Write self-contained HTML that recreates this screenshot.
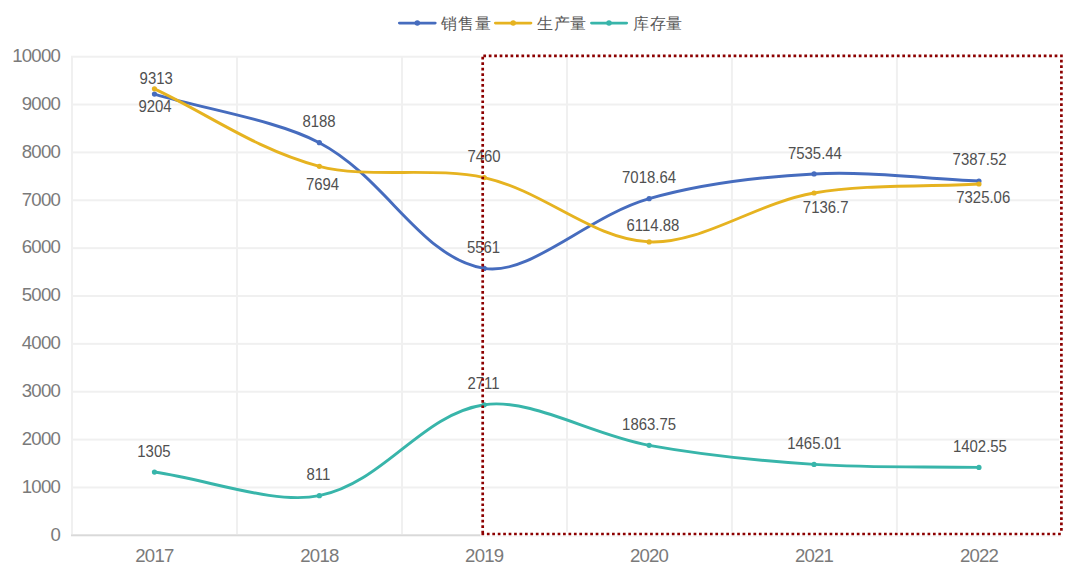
<!DOCTYPE html>
<html><head><meta charset="utf-8"><style>
html,body{margin:0;padding:0;background:#fff;}
body{width:1080px;height:578px;overflow:hidden;}
svg{display:block;}
text{font-family:"Liberation Sans",sans-serif;}
.ax{font-size:18.6px;fill:#7A7A7A;letter-spacing:-0.8px;}
.dl{font-size:15.4px;fill:#505050;letter-spacing:0px;}
.lg{font-size:16.4px;fill:#595959;letter-spacing:0.6px;}
</style></head><body>
<svg width="1080" height="578" viewBox="0 0 1080 578">
<rect x="71" y="55.70" width="991" height="2" fill="#F0F0F0"/>
<rect x="71" y="103.56" width="991" height="2" fill="#F0F0F0"/>
<rect x="71" y="151.42" width="991" height="2" fill="#F0F0F0"/>
<rect x="71" y="199.28" width="991" height="2" fill="#F0F0F0"/>
<rect x="71" y="247.14" width="991" height="2" fill="#F0F0F0"/>
<rect x="71" y="295.00" width="991" height="2" fill="#F0F0F0"/>
<rect x="71" y="342.86" width="991" height="2" fill="#F0F0F0"/>
<rect x="71" y="390.72" width="991" height="2" fill="#F0F0F0"/>
<rect x="71" y="438.58" width="991" height="2" fill="#F0F0F0"/>
<rect x="71" y="486.44" width="991" height="2" fill="#F0F0F0"/>
<rect x="71" y="534.30" width="991" height="2" fill="#D9D9D9"/>
<rect x="71.03" y="56" width="2" height="478" fill="#F0F0F0"/>
<rect x="236.00" y="56" width="2" height="478" fill="#F0F0F0"/>
<rect x="400.97" y="56" width="2" height="478" fill="#F0F0F0"/>
<rect x="565.94" y="56" width="2" height="478" fill="#F0F0F0"/>
<rect x="730.91" y="56" width="2" height="478" fill="#F0F0F0"/>
<rect x="895.88" y="56" width="2" height="478" fill="#F0F0F0"/>
<rect x="1060.85" y="56" width="2" height="478" fill="#F0F0F0"/>
<rect x="482.75" y="55.8" width="578.65" height="478.2" fill="none" stroke="#FFFFFF" stroke-width="4.6"/>
<text x="60.0" y="540.6" class="ax" text-anchor="end">0</text>
<text x="60.0" y="492.7" class="ax" text-anchor="end">1000</text>
<text x="60.0" y="444.9" class="ax" text-anchor="end">2000</text>
<text x="60.0" y="397.0" class="ax" text-anchor="end">3000</text>
<text x="60.0" y="349.2" class="ax" text-anchor="end">4000</text>
<text x="60.0" y="301.3" class="ax" text-anchor="end">5000</text>
<text x="60.0" y="253.4" class="ax" text-anchor="end">6000</text>
<text x="60.0" y="205.6" class="ax" text-anchor="end">7000</text>
<text x="60.0" y="157.7" class="ax" text-anchor="end">8000</text>
<text x="60.0" y="109.9" class="ax" text-anchor="end">9000</text>
<text x="60.0" y="62.0" class="ax" text-anchor="end">10000</text>
<text x="154.4" y="561.8" class="ax" text-anchor="middle">2017</text>
<text x="319.4" y="561.8" class="ax" text-anchor="middle">2018</text>
<text x="484.2" y="561.8" class="ax" text-anchor="middle">2019</text>
<text x="649.1" y="561.8" class="ax" text-anchor="middle">2020</text>
<text x="814.1" y="561.8" class="ax" text-anchor="middle">2021</text>
<text x="979.0" y="561.8" class="ax" text-anchor="middle">2022</text>
<path d="M154.45,94.09 C209.42,110.29 276.97,120.31 319.35,142.70 C386.91,178.41 420.02,257.51 484.25,268.41 C529.95,276.16 587.66,216.27 649.15,198.66 C697.60,184.78 757.93,176.93 814.05,173.93 C867.86,171.05 923.98,178.65 978.95,181.01" fill="none" stroke="#466CBE" stroke-width="2.9" stroke-linecap="round"/>
<circle cx="154.45" cy="94.09" r="2.6" fill="#466CBE"/>
<circle cx="319.35" cy="142.70" r="2.6" fill="#466CBE"/>
<circle cx="484.25" cy="268.41" r="2.6" fill="#466CBE"/>
<circle cx="649.15" cy="198.66" r="2.6" fill="#466CBE"/>
<circle cx="814.05" cy="173.93" r="2.6" fill="#466CBE"/>
<circle cx="978.95" cy="181.01" r="2.6" fill="#466CBE"/>
<path d="M154.45,88.87 C209.42,114.70 255.59,149.20 319.35,166.34 C365.52,178.76 435.88,166.46 484.25,177.54 C545.82,191.64 591.68,239.21 649.15,241.90 C701.61,244.36 754.88,203.40 814.05,193.01 C864.81,184.10 923.98,187.00 978.95,184.00" fill="none" stroke="#E6B320" stroke-width="2.9" stroke-linecap="round"/>
<circle cx="154.45" cy="88.87" r="2.6" fill="#E6B320"/>
<circle cx="319.35" cy="166.34" r="2.6" fill="#E6B320"/>
<circle cx="484.25" cy="177.54" r="2.6" fill="#E6B320"/>
<circle cx="649.15" cy="241.90" r="2.6" fill="#E6B320"/>
<circle cx="814.05" cy="193.01" r="2.6" fill="#E6B320"/>
<circle cx="978.95" cy="184.00" r="2.6" fill="#E6B320"/>
<path d="M154.45,472.06 C209.42,479.94 274.56,504.83 319.35,495.69 C384.49,482.41 421.05,414.43 484.25,404.78 C530.99,397.64 591.79,434.95 649.15,445.32 C701.72,454.82 758.34,460.67 814.05,464.40 C868.27,468.03 923.98,466.39 978.95,467.39" fill="none" stroke="#38B5AA" stroke-width="2.9" stroke-linecap="round"/>
<circle cx="154.45" cy="472.06" r="2.6" fill="#38B5AA"/>
<circle cx="319.35" cy="495.69" r="2.6" fill="#38B5AA"/>
<circle cx="484.25" cy="404.78" r="2.6" fill="#38B5AA"/>
<circle cx="649.15" cy="445.32" r="2.6" fill="#38B5AA"/>
<circle cx="814.05" cy="464.40" r="2.6" fill="#38B5AA"/>
<circle cx="978.95" cy="467.39" r="2.6" fill="#38B5AA"/>
<text transform="translate(156.2 83.8) scale(0.970 1.080)" class="dl" text-anchor="middle">9313</text>
<text transform="translate(155.0 112.1) scale(0.970 1.080)" class="dl" text-anchor="middle">9204</text>
<text transform="translate(319.0 126.5) scale(0.970 1.080)" class="dl" text-anchor="middle">8188</text>
<text transform="translate(322.5 190.1) scale(0.970 1.080)" class="dl" text-anchor="middle">7694</text>
<text transform="translate(484.0 162.3) scale(0.970 1.080)" class="dl" text-anchor="middle">7460</text>
<text transform="translate(483.5 252.8) scale(0.970 1.080)" class="dl" text-anchor="middle">5561</text>
<text transform="translate(649.0 182.9) scale(0.970 1.080)" class="dl" text-anchor="middle">7018.64</text>
<text transform="translate(653.0 230.5) scale(0.970 1.080)" class="dl" text-anchor="middle">6114.88</text>
<text transform="translate(814.9 158.5) scale(0.970 1.080)" class="dl" text-anchor="middle">7535.44</text>
<text transform="translate(825.7 213.2) scale(0.970 1.080)" class="dl" text-anchor="middle">7136.7</text>
<text transform="translate(979.6 164.7) scale(0.970 1.080)" class="dl" text-anchor="middle">7387.52</text>
<text transform="translate(983.2 202.8) scale(0.970 1.080)" class="dl" text-anchor="middle">7325.06</text>
<text transform="translate(153.9 456.8) scale(0.970 1.080)" class="dl" text-anchor="middle">1305</text>
<text transform="translate(318.4 479.8) scale(0.970 1.080)" class="dl" text-anchor="middle">811</text>
<text transform="translate(483.5 389.4) scale(0.970 1.080)" class="dl" text-anchor="middle">2711</text>
<text transform="translate(649.1 429.6) scale(0.970 1.080)" class="dl" text-anchor="middle">1863.75</text>
<text transform="translate(814.2 449.2) scale(0.970 1.080)" class="dl" text-anchor="middle">1465.01</text>
<text transform="translate(979.9 451.5) scale(0.970 1.080)" class="dl" text-anchor="middle">1402.55</text>
<path d="M483.35,54.45h2.7v2.7h-2.7zM488.79,54.45h2.7v2.7h-2.7zM494.23,54.45h2.7v2.7h-2.7zM499.67,54.45h2.7v2.7h-2.7zM505.11,54.45h2.7v2.7h-2.7zM510.55,54.45h2.7v2.7h-2.7zM516.00,54.45h2.7v2.7h-2.7zM521.44,54.45h2.7v2.7h-2.7zM526.88,54.45h2.7v2.7h-2.7zM532.32,54.45h2.7v2.7h-2.7zM537.76,54.45h2.7v2.7h-2.7zM543.20,54.45h2.7v2.7h-2.7zM548.64,54.45h2.7v2.7h-2.7zM554.08,54.45h2.7v2.7h-2.7zM559.52,54.45h2.7v2.7h-2.7zM564.96,54.45h2.7v2.7h-2.7zM570.41,54.45h2.7v2.7h-2.7zM575.85,54.45h2.7v2.7h-2.7zM581.29,54.45h2.7v2.7h-2.7zM586.73,54.45h2.7v2.7h-2.7zM592.17,54.45h2.7v2.7h-2.7zM597.61,54.45h2.7v2.7h-2.7zM603.05,54.45h2.7v2.7h-2.7zM608.49,54.45h2.7v2.7h-2.7zM613.93,54.45h2.7v2.7h-2.7zM619.38,54.45h2.7v2.7h-2.7zM624.82,54.45h2.7v2.7h-2.7zM630.26,54.45h2.7v2.7h-2.7zM635.70,54.45h2.7v2.7h-2.7zM641.14,54.45h2.7v2.7h-2.7zM646.58,54.45h2.7v2.7h-2.7zM652.02,54.45h2.7v2.7h-2.7zM657.46,54.45h2.7v2.7h-2.7zM662.90,54.45h2.7v2.7h-2.7zM668.34,54.45h2.7v2.7h-2.7zM673.78,54.45h2.7v2.7h-2.7zM679.23,54.45h2.7v2.7h-2.7zM684.67,54.45h2.7v2.7h-2.7zM690.11,54.45h2.7v2.7h-2.7zM695.55,54.45h2.7v2.7h-2.7zM700.99,54.45h2.7v2.7h-2.7zM706.43,54.45h2.7v2.7h-2.7zM711.87,54.45h2.7v2.7h-2.7zM717.31,54.45h2.7v2.7h-2.7zM722.75,54.45h2.7v2.7h-2.7zM728.19,54.45h2.7v2.7h-2.7zM733.64,54.45h2.7v2.7h-2.7zM739.08,54.45h2.7v2.7h-2.7zM744.52,54.45h2.7v2.7h-2.7zM749.96,54.45h2.7v2.7h-2.7zM755.40,54.45h2.7v2.7h-2.7zM760.84,54.45h2.7v2.7h-2.7zM766.28,54.45h2.7v2.7h-2.7zM771.72,54.45h2.7v2.7h-2.7zM777.16,54.45h2.7v2.7h-2.7zM782.60,54.45h2.7v2.7h-2.7zM788.05,54.45h2.7v2.7h-2.7zM793.49,54.45h2.7v2.7h-2.7zM798.93,54.45h2.7v2.7h-2.7zM804.37,54.45h2.7v2.7h-2.7zM809.81,54.45h2.7v2.7h-2.7zM815.25,54.45h2.7v2.7h-2.7zM820.69,54.45h2.7v2.7h-2.7zM826.13,54.45h2.7v2.7h-2.7zM831.57,54.45h2.7v2.7h-2.7zM837.01,54.45h2.7v2.7h-2.7zM842.46,54.45h2.7v2.7h-2.7zM847.90,54.45h2.7v2.7h-2.7zM853.34,54.45h2.7v2.7h-2.7zM858.78,54.45h2.7v2.7h-2.7zM864.22,54.45h2.7v2.7h-2.7zM869.66,54.45h2.7v2.7h-2.7zM875.10,54.45h2.7v2.7h-2.7zM880.54,54.45h2.7v2.7h-2.7zM885.98,54.45h2.7v2.7h-2.7zM891.42,54.45h2.7v2.7h-2.7zM896.87,54.45h2.7v2.7h-2.7zM902.31,54.45h2.7v2.7h-2.7zM907.75,54.45h2.7v2.7h-2.7zM913.19,54.45h2.7v2.7h-2.7zM918.63,54.45h2.7v2.7h-2.7zM924.07,54.45h2.7v2.7h-2.7zM929.51,54.45h2.7v2.7h-2.7zM934.95,54.45h2.7v2.7h-2.7zM940.39,54.45h2.7v2.7h-2.7zM945.83,54.45h2.7v2.7h-2.7zM951.28,54.45h2.7v2.7h-2.7zM956.72,54.45h2.7v2.7h-2.7zM962.16,54.45h2.7v2.7h-2.7zM967.60,54.45h2.7v2.7h-2.7zM973.04,54.45h2.7v2.7h-2.7zM978.48,54.45h2.7v2.7h-2.7zM983.92,54.45h2.7v2.7h-2.7zM989.36,54.45h2.7v2.7h-2.7zM994.80,54.45h2.7v2.7h-2.7zM1000.25,54.45h2.7v2.7h-2.7zM1005.69,54.45h2.7v2.7h-2.7zM1011.13,54.45h2.7v2.7h-2.7zM1016.57,54.45h2.7v2.7h-2.7zM1022.01,54.45h2.7v2.7h-2.7zM1027.45,54.45h2.7v2.7h-2.7zM1032.89,54.45h2.7v2.7h-2.7zM1038.33,54.45h2.7v2.7h-2.7zM1043.77,54.45h2.7v2.7h-2.7zM1049.21,54.45h2.7v2.7h-2.7zM1054.65,54.45h2.7v2.7h-2.7zM1060.10,54.45h2.7v2.7h-2.7zM1060.05,59.80h2.7v2.7h-2.7zM1060.05,65.24h2.7v2.7h-2.7zM1060.05,70.69h2.7v2.7h-2.7zM1060.05,76.13h2.7v2.7h-2.7zM1060.05,81.58h2.7v2.7h-2.7zM1060.05,87.02h2.7v2.7h-2.7zM1060.05,92.47h2.7v2.7h-2.7zM1060.05,97.91h2.7v2.7h-2.7zM1060.05,103.36h2.7v2.7h-2.7zM1060.05,108.80h2.7v2.7h-2.7zM1060.05,114.25h2.7v2.7h-2.7zM1060.05,119.69h2.7v2.7h-2.7zM1060.05,125.14h2.7v2.7h-2.7zM1060.05,130.58h2.7v2.7h-2.7zM1060.05,136.03h2.7v2.7h-2.7zM1060.05,141.47h2.7v2.7h-2.7zM1060.05,146.91h2.7v2.7h-2.7zM1060.05,152.36h2.7v2.7h-2.7zM1060.05,157.81h2.7v2.7h-2.7zM1060.05,163.25h2.7v2.7h-2.7zM1060.05,168.70h2.7v2.7h-2.7zM1060.05,174.14h2.7v2.7h-2.7zM1060.05,179.59h2.7v2.7h-2.7zM1060.05,185.03h2.7v2.7h-2.7zM1060.05,190.47h2.7v2.7h-2.7zM1060.05,195.92h2.7v2.7h-2.7zM1060.05,201.37h2.7v2.7h-2.7zM1060.05,206.81h2.7v2.7h-2.7zM1060.05,212.26h2.7v2.7h-2.7zM1060.05,217.70h2.7v2.7h-2.7zM1060.05,223.15h2.7v2.7h-2.7zM1060.05,228.59h2.7v2.7h-2.7zM1060.05,234.03h2.7v2.7h-2.7zM1060.05,239.48h2.7v2.7h-2.7zM1060.05,244.93h2.7v2.7h-2.7zM1060.05,250.37h2.7v2.7h-2.7zM1060.05,255.82h2.7v2.7h-2.7zM1060.05,261.26h2.7v2.7h-2.7zM1060.05,266.70h2.7v2.7h-2.7zM1060.05,272.15h2.7v2.7h-2.7zM1060.05,277.59h2.7v2.7h-2.7zM1060.05,283.04h2.7v2.7h-2.7zM1060.05,288.49h2.7v2.7h-2.7zM1060.05,293.93h2.7v2.7h-2.7zM1060.05,299.38h2.7v2.7h-2.7zM1060.05,304.82h2.7v2.7h-2.7zM1060.05,310.26h2.7v2.7h-2.7zM1060.05,315.71h2.7v2.7h-2.7zM1060.05,321.15h2.7v2.7h-2.7zM1060.05,326.60h2.7v2.7h-2.7zM1060.05,332.04h2.7v2.7h-2.7zM1060.05,337.49h2.7v2.7h-2.7zM1060.05,342.94h2.7v2.7h-2.7zM1060.05,348.38h2.7v2.7h-2.7zM1060.05,353.82h2.7v2.7h-2.7zM1060.05,359.27h2.7v2.7h-2.7zM1060.05,364.71h2.7v2.7h-2.7zM1060.05,370.16h2.7v2.7h-2.7zM1060.05,375.60h2.7v2.7h-2.7zM1060.05,381.05h2.7v2.7h-2.7zM1060.05,386.50h2.7v2.7h-2.7zM1060.05,391.94h2.7v2.7h-2.7zM1060.05,397.38h2.7v2.7h-2.7zM1060.05,402.83h2.7v2.7h-2.7zM1060.05,408.27h2.7v2.7h-2.7zM1060.05,413.72h2.7v2.7h-2.7zM1060.05,419.16h2.7v2.7h-2.7zM1060.05,424.61h2.7v2.7h-2.7zM1060.05,430.06h2.7v2.7h-2.7zM1060.05,435.50h2.7v2.7h-2.7zM1060.05,440.94h2.7v2.7h-2.7zM1060.05,446.39h2.7v2.7h-2.7zM1060.05,451.83h2.7v2.7h-2.7zM1060.05,457.28h2.7v2.7h-2.7zM1060.05,462.72h2.7v2.7h-2.7zM1060.05,468.17h2.7v2.7h-2.7zM1060.05,473.62h2.7v2.7h-2.7zM1060.05,479.06h2.7v2.7h-2.7zM1060.05,484.50h2.7v2.7h-2.7zM1060.05,489.95h2.7v2.7h-2.7zM1060.05,495.39h2.7v2.7h-2.7zM1060.05,500.84h2.7v2.7h-2.7zM1060.05,506.28h2.7v2.7h-2.7zM1060.05,511.73h2.7v2.7h-2.7zM1060.05,517.18h2.7v2.7h-2.7zM1060.05,522.62h2.7v2.7h-2.7zM1060.05,528.07h2.7v2.7h-2.7zM481.45,532.65h2.7v2.7h-2.7zM486.89,532.65h2.7v2.7h-2.7zM492.33,532.65h2.7v2.7h-2.7zM497.77,532.65h2.7v2.7h-2.7zM503.21,532.65h2.7v2.7h-2.7zM508.65,532.65h2.7v2.7h-2.7zM514.09,532.65h2.7v2.7h-2.7zM519.53,532.65h2.7v2.7h-2.7zM524.97,532.65h2.7v2.7h-2.7zM530.41,532.65h2.7v2.7h-2.7zM535.85,532.65h2.7v2.7h-2.7zM541.29,532.65h2.7v2.7h-2.7zM546.73,532.65h2.7v2.7h-2.7zM552.17,532.65h2.7v2.7h-2.7zM557.61,532.65h2.7v2.7h-2.7zM563.05,532.65h2.7v2.7h-2.7zM568.49,532.65h2.7v2.7h-2.7zM573.93,532.65h2.7v2.7h-2.7zM579.37,532.65h2.7v2.7h-2.7zM584.81,532.65h2.7v2.7h-2.7zM590.25,532.65h2.7v2.7h-2.7zM595.69,532.65h2.7v2.7h-2.7zM601.13,532.65h2.7v2.7h-2.7zM606.57,532.65h2.7v2.7h-2.7zM612.01,532.65h2.7v2.7h-2.7zM617.45,532.65h2.7v2.7h-2.7zM622.89,532.65h2.7v2.7h-2.7zM628.33,532.65h2.7v2.7h-2.7zM633.77,532.65h2.7v2.7h-2.7zM639.21,532.65h2.7v2.7h-2.7zM644.65,532.65h2.7v2.7h-2.7zM650.09,532.65h2.7v2.7h-2.7zM655.53,532.65h2.7v2.7h-2.7zM660.97,532.65h2.7v2.7h-2.7zM666.41,532.65h2.7v2.7h-2.7zM671.85,532.65h2.7v2.7h-2.7zM677.29,532.65h2.7v2.7h-2.7zM682.73,532.65h2.7v2.7h-2.7zM688.17,532.65h2.7v2.7h-2.7zM693.61,532.65h2.7v2.7h-2.7zM699.05,532.65h2.7v2.7h-2.7zM704.49,532.65h2.7v2.7h-2.7zM709.93,532.65h2.7v2.7h-2.7zM715.37,532.65h2.7v2.7h-2.7zM720.81,532.65h2.7v2.7h-2.7zM726.25,532.65h2.7v2.7h-2.7zM731.69,532.65h2.7v2.7h-2.7zM737.13,532.65h2.7v2.7h-2.7zM742.57,532.65h2.7v2.7h-2.7zM748.01,532.65h2.7v2.7h-2.7zM753.45,532.65h2.7v2.7h-2.7zM758.89,532.65h2.7v2.7h-2.7zM764.33,532.65h2.7v2.7h-2.7zM769.77,532.65h2.7v2.7h-2.7zM775.21,532.65h2.7v2.7h-2.7zM780.65,532.65h2.7v2.7h-2.7zM786.09,532.65h2.7v2.7h-2.7zM791.53,532.65h2.7v2.7h-2.7zM796.97,532.65h2.7v2.7h-2.7zM802.41,532.65h2.7v2.7h-2.7zM807.85,532.65h2.7v2.7h-2.7zM813.29,532.65h2.7v2.7h-2.7zM818.73,532.65h2.7v2.7h-2.7zM824.17,532.65h2.7v2.7h-2.7zM829.61,532.65h2.7v2.7h-2.7zM835.05,532.65h2.7v2.7h-2.7zM840.49,532.65h2.7v2.7h-2.7zM845.93,532.65h2.7v2.7h-2.7zM851.37,532.65h2.7v2.7h-2.7zM856.81,532.65h2.7v2.7h-2.7zM862.25,532.65h2.7v2.7h-2.7zM867.69,532.65h2.7v2.7h-2.7zM873.13,532.65h2.7v2.7h-2.7zM878.57,532.65h2.7v2.7h-2.7zM884.01,532.65h2.7v2.7h-2.7zM889.45,532.65h2.7v2.7h-2.7zM894.89,532.65h2.7v2.7h-2.7zM900.33,532.65h2.7v2.7h-2.7zM905.77,532.65h2.7v2.7h-2.7zM911.21,532.65h2.7v2.7h-2.7zM916.65,532.65h2.7v2.7h-2.7zM922.09,532.65h2.7v2.7h-2.7zM927.53,532.65h2.7v2.7h-2.7zM932.97,532.65h2.7v2.7h-2.7zM938.41,532.65h2.7v2.7h-2.7zM943.85,532.65h2.7v2.7h-2.7zM949.29,532.65h2.7v2.7h-2.7zM954.73,532.65h2.7v2.7h-2.7zM960.17,532.65h2.7v2.7h-2.7zM965.61,532.65h2.7v2.7h-2.7zM971.05,532.65h2.7v2.7h-2.7zM976.49,532.65h2.7v2.7h-2.7zM981.93,532.65h2.7v2.7h-2.7zM987.37,532.65h2.7v2.7h-2.7zM992.81,532.65h2.7v2.7h-2.7zM998.25,532.65h2.7v2.7h-2.7zM1003.69,532.65h2.7v2.7h-2.7zM1009.13,532.65h2.7v2.7h-2.7zM1014.57,532.65h2.7v2.7h-2.7zM1020.01,532.65h2.7v2.7h-2.7zM1025.45,532.65h2.7v2.7h-2.7zM1030.89,532.65h2.7v2.7h-2.7zM1036.33,532.65h2.7v2.7h-2.7zM1041.77,532.65h2.7v2.7h-2.7zM1047.21,532.65h2.7v2.7h-2.7zM1052.65,532.65h2.7v2.7h-2.7zM1058.09,532.65h2.7v2.7h-2.7zM481.35,56.85h2.7v2.7h-2.7zM481.35,62.30h2.7v2.7h-2.7zM481.35,67.74h2.7v2.7h-2.7zM481.35,73.19h2.7v2.7h-2.7zM481.35,78.63h2.7v2.7h-2.7zM481.35,84.08h2.7v2.7h-2.7zM481.35,89.53h2.7v2.7h-2.7zM481.35,94.97h2.7v2.7h-2.7zM481.35,100.42h2.7v2.7h-2.7zM481.35,105.86h2.7v2.7h-2.7zM481.35,111.31h2.7v2.7h-2.7zM481.35,116.76h2.7v2.7h-2.7zM481.35,122.20h2.7v2.7h-2.7zM481.35,127.65h2.7v2.7h-2.7zM481.35,133.09h2.7v2.7h-2.7zM481.35,138.54h2.7v2.7h-2.7zM481.35,143.99h2.7v2.7h-2.7zM481.35,149.43h2.7v2.7h-2.7zM481.35,154.88h2.7v2.7h-2.7zM481.35,160.32h2.7v2.7h-2.7zM481.35,165.77h2.7v2.7h-2.7zM481.35,171.22h2.7v2.7h-2.7zM481.35,176.66h2.7v2.7h-2.7zM481.35,182.11h2.7v2.7h-2.7zM481.35,187.55h2.7v2.7h-2.7zM481.35,193.00h2.7v2.7h-2.7zM481.35,198.45h2.7v2.7h-2.7zM481.35,203.89h2.7v2.7h-2.7zM481.35,209.34h2.7v2.7h-2.7zM481.35,214.78h2.7v2.7h-2.7zM481.35,220.23h2.7v2.7h-2.7zM481.35,225.68h2.7v2.7h-2.7zM481.35,231.12h2.7v2.7h-2.7zM481.35,236.57h2.7v2.7h-2.7zM481.35,242.01h2.7v2.7h-2.7zM481.35,247.46h2.7v2.7h-2.7zM481.35,252.91h2.7v2.7h-2.7zM481.35,258.35h2.7v2.7h-2.7zM481.35,263.80h2.7v2.7h-2.7zM481.35,269.24h2.7v2.7h-2.7zM481.35,274.69h2.7v2.7h-2.7zM481.35,280.14h2.7v2.7h-2.7zM481.35,285.58h2.7v2.7h-2.7zM481.35,291.03h2.7v2.7h-2.7zM481.35,296.47h2.7v2.7h-2.7zM481.35,301.92h2.7v2.7h-2.7zM481.35,307.37h2.7v2.7h-2.7zM481.35,312.81h2.7v2.7h-2.7zM481.35,318.26h2.7v2.7h-2.7zM481.35,323.70h2.7v2.7h-2.7zM481.35,329.15h2.7v2.7h-2.7zM481.35,334.60h2.7v2.7h-2.7zM481.35,340.04h2.7v2.7h-2.7zM481.35,345.49h2.7v2.7h-2.7zM481.35,350.93h2.7v2.7h-2.7zM481.35,356.38h2.7v2.7h-2.7zM481.35,361.83h2.7v2.7h-2.7zM481.35,367.27h2.7v2.7h-2.7zM481.35,372.72h2.7v2.7h-2.7zM481.35,378.16h2.7v2.7h-2.7zM481.35,383.61h2.7v2.7h-2.7zM481.35,389.06h2.7v2.7h-2.7zM481.35,394.50h2.7v2.7h-2.7zM481.35,399.95h2.7v2.7h-2.7zM481.35,405.39h2.7v2.7h-2.7zM481.35,410.84h2.7v2.7h-2.7zM481.35,416.29h2.7v2.7h-2.7zM481.35,421.73h2.7v2.7h-2.7zM481.35,427.18h2.7v2.7h-2.7zM481.35,432.62h2.7v2.7h-2.7zM481.35,438.07h2.7v2.7h-2.7zM481.35,443.52h2.7v2.7h-2.7zM481.35,448.96h2.7v2.7h-2.7zM481.35,454.41h2.7v2.7h-2.7zM481.35,459.85h2.7v2.7h-2.7zM481.35,465.30h2.7v2.7h-2.7zM481.35,470.75h2.7v2.7h-2.7zM481.35,476.19h2.7v2.7h-2.7zM481.35,481.64h2.7v2.7h-2.7zM481.35,487.08h2.7v2.7h-2.7zM481.35,492.53h2.7v2.7h-2.7zM481.35,497.98h2.7v2.7h-2.7zM481.35,503.42h2.7v2.7h-2.7zM481.35,508.87h2.7v2.7h-2.7zM481.35,514.31h2.7v2.7h-2.7zM481.35,519.76h2.7v2.7h-2.7zM481.35,525.21h2.7v2.7h-2.7zM481.35,530.65h2.7v2.7h-2.7z" fill="#8C0000"/>
<line x1="399.4" y1="23.1" x2="435.2" y2="23.1" stroke="#466CBE" stroke-width="2.9" stroke-linecap="round"/>
<circle cx="417.3" cy="23.1" r="2.75" fill="#466CBE"/>
<text x="441.4" y="29" class="lg">销售量</text>
<line x1="495.4" y1="23.1" x2="530.9" y2="23.1" stroke="#E6B320" stroke-width="2.9" stroke-linecap="round"/>
<circle cx="513.2" cy="23.1" r="2.75" fill="#E6B320"/>
<text x="537.1" y="29" class="lg">生产量</text>
<line x1="591.5" y1="23.1" x2="626.6" y2="23.1" stroke="#38B5AA" stroke-width="2.9" stroke-linecap="round"/>
<circle cx="609.0" cy="23.1" r="2.75" fill="#38B5AA"/>
<text x="633.3" y="29" class="lg">库存量</text>
</svg>
</body></html>
